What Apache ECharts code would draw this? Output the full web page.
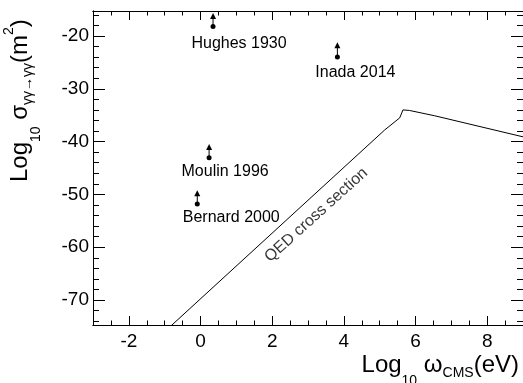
<!DOCTYPE html>
<html>
<head>
<meta charset="utf-8">
<script src="https://cdn.jsdelivr.net/npm/echarts@6/dist/echarts.min.js"></script>
<style>
html, body { margin: 0; padding: 0; background: #fff; }
#container { width: 523px; height: 383px; }
</style>
</head>
<body>
<div id="container"></div>
<script>
// lower limits from the experiments (point + arrow pointing up)
const experiments = ['Hughes 1930', 'Inada 2014', 'Moulin 1996', 'Bernard 2000']
const expX = [0.35, 3.82, 0.24, -0.09]
const expY = [-18.2, -24.0, -43.05, -51.8]
const expArrowY = [-16.2, -21.75, -41.0, -49.8]

// QED cross section curve
const qedX = [-0.84, 5.14, 5.56, 5.65, 5.83, 6.53, 9.0]
const qedY = [-75, -37.8, -35.5, -34.0, -34.1, -35.1, -39.1]
const qedLabel = 'QED cross section'
const qedLabelAt = [3.23, -53.9]

// axis ranges and ticks
const xRange = [-3, 9]
const yRange = [-74.73, -15.27]
const xMajorTicks = [-2, 0, 2, 4, 6, 8]
const yMajorTicks = [-70, -60, -50, -40, -30, -20]

const xMinorTicks = []
for (let v = -2.5; v < 9; v += 0.5) {
    if (v % 2 !== 0) xMinorTicks.push(v)
}
const yMinorTicks = []
for (let v = -74; v < -15; v += 2) {
    if (v % 10 !== 0) yMinorTicks.push(v)
}

const labelOffsets = [[26, 17], [18, 15], [16, 14], [34, 14]]

const font = 'Liberation Sans'

const dom = document.getElementById('container')
const myChart = echarts.init(dom, null, { renderer: 'canvas' })

const makeX = (position, ticks, len, labels) => ({
    type: 'value',
    position: position,
    min: xRange[0],
    max: xRange[1],
    axisLine: { show: true, onZero: false, lineStyle: { color: '#000', width: 1 } },
    axisTick: { show: true, inside: true, length: len, customValues: ticks, lineStyle: { color: '#000' } },
    axisLabel: labels ? {
        show: true, customValues: ticks, color: '#000', fontSize: 19, fontFamily: font, margin: 7
    } : { show: false },
    splitLine: { show: false }
})

const makeY = (position, ticks, len, labels) => ({
    type: 'value',
    position: position,
    min: yRange[0],
    max: yRange[1],
    axisLine: { show: true, onZero: false, lineStyle: { color: '#000', width: 1 } },
    axisTick: { show: true, inside: true, length: len, customValues: ticks, lineStyle: { color: '#000' } },
    axisLabel: labels ? {
        show: true, customValues: ticks, color: '#000', fontSize: 19, fontFamily: font, margin: 4
    } : { show: false },
    splitLine: { show: false }
})

const titleRich = {
    m: { fontSize: 24, fontFamily: font, lineHeight: 24, padding: [6, 0, 0, 0], verticalAlign: 'top', fill: '#000' },
    a: { fontSize: 14, fontFamily: font, lineHeight: 14, padding: [27, 0, 0, 0], verticalAlign: 'top', fill: '#000' },
    b: { fontSize: 14, fontFamily: font, lineHeight: 14, padding: [19, 0, 0, 0], verticalAlign: 'top', fill: '#000' },
    p: { fontSize: 14, fontFamily: font, lineHeight: 14, padding: [0, 0, 0, 0], verticalAlign: 'top', fill: '#000' }
}

const expSeries = experiments.map((name, i) => ({
    type: 'line',
    name: name,
    data: [
        {
            value: [expX[i], expY[i]],
            symbol: 'circle',
            symbolSize: 5,
            label: {
                show: true,
                formatter: name,
                position: 'inside',
                offset: labelOffsets[i],
                color: '#000',
                textBorderWidth: 0,
                fontSize: 16,
                fontFamily: font
            }
        },
        { value: [expX[i], expArrowY[i]], symbol: 'triangle', symbolSize: 6 }
    ],
    showSymbol: true,
    lineStyle: { color: '#000', width: 1 },
    itemStyle: { color: '#000' },
    clip: false
}))

const option = {
    animation: false,
    backgroundColor: '#fff',
    grid: { left: 93, right: 0, top: 11, bottom: 58, containLabel: false },
    xAxis: [
        makeX('bottom', xMajorTicks, 9, true),
        makeX('bottom', xMinorTicks, 4.5, false),
        makeX('top', xMajorTicks, 9, false),
        makeX('top', xMinorTicks, 4.5, false)
    ],
    yAxis: [
        makeY('left', yMajorTicks, 12, true),
        makeY('left', yMinorTicks, 6, false),
        makeY('right', yMajorTicks, 12, false),
        makeY('right', yMinorTicks, 6, false)
    ],
    graphic: [
        {
            type: 'text',
            x: 519,
            y: 347.6,
            style: {
                text: '{m|Log}{a|10}{m| ω}{b|CMS}{m|(eV)}',
                rich: titleRich,
                align: 'right',
                verticalAlign: 'top'
            }
        },
        {
            type: 'text',
            x: 2.6,
            y: 182,
            rotation: Math.PI / 2,
            style: {
                text: '{m|Log}{a|10}{m| σ}{b|γγ→γγ}{m|(m}{p|2}{m|)}',
                rich: titleRich,
                align: 'left',
                verticalAlign: 'top'
            }
        }
    ],
    series: [
        {
            type: 'line',
            name: 'QED',
            data: qedX.map((x, i) => [x, qedY[i]]),
            showSymbol: false,
            lineStyle: { color: '#000', width: 1 },
            clip: true
        },
        {
            type: 'scatter',
            name: 'qedLabel',
            data: [qedLabelAt],
            symbolSize: 0,
            itemStyle: { color: '#000' },
            label: {
                show: true,
                formatter: qedLabel,
                position: 'inside',
                rotate: 42,
                color: '#000',
                textBorderWidth: 0,
                fontSize: 16,
                fontFamily: font
            }
        },
        ...expSeries
    ]
}

myChart.setOption(option)
</script>
</body>
</html>
